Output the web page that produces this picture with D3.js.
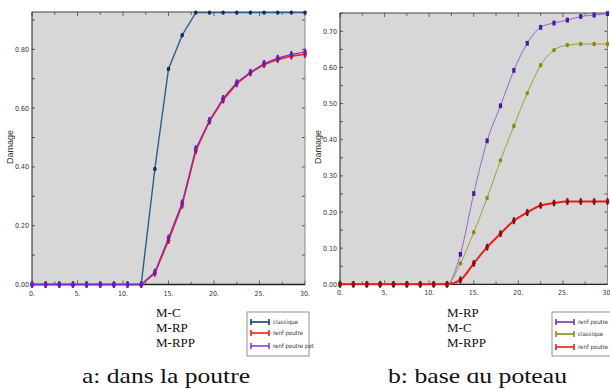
<!DOCTYPE html>
<html>
<head>
<meta charset="utf-8">
<style>
body { margin: 0; background: #fff; }
svg { display: block; }
.tick-lbl { font-family: "Liberation Sans Narrow", "DejaVu Sans Condensed", sans-serif; font-size: 7px; fill: #333; }
.cap { font-family: "Liberation Serif", serif; fill: #111; }
</style>
</head>
<body>
<svg id="chart" width="610" height="389"></svg>
<script src="https://cdn.jsdelivr.net/npm/d3@7"></script>
<script>
// x positions shared by every series
const xs = [0, 1.5, 3, 4.5, 6, 7.5, 9, 10.5, 12, 13.5, 15, 16.5, 18, 19.5, 21, 22.5, 24, 25.5, 27, 28.5, 30];

// a: dans la poutre
const aClassique = [0, 0, 0, 0, 0, 0, 0, 0, 0, 0.393, 0.733, 0.848, 0.925, 0.925, 0.925, 0.925, 0.925, 0.925, 0.925, 0.925, 0.925];
const aRenfPoutre = [0, 0, 0, 0, 0, 0, 0, 0, 0, 0.038, 0.150, 0.270, 0.455, 0.555, 0.628, 0.683, 0.720, 0.748, 0.765, 0.777, 0.783];
const aRenfPoutrePot = [0, 0, 0, 0, 0, 0, 0, 0, 0, 0.042, 0.158, 0.278, 0.462, 0.558, 0.633, 0.687, 0.722, 0.752, 0.770, 0.783, 0.791];

// b: base du poteau
const bRenfPoutre = [0, 0, 0, 0, 0, 0, 0, 0, 0, 0.083, 0.251, 0.397, 0.494, 0.592, 0.667, 0.711, 0.723, 0.731, 0.741, 0.745, 0.749];
const bClassique = [0, 0, 0, 0, 0, 0, 0, 0, 0, 0.058, 0.144, 0.239, 0.343, 0.438, 0.529, 0.606, 0.648, 0.662, 0.665, 0.665, 0.665];
const bRenfPoutrePot = [0, 0, 0, 0, 0, 0, 0, 0, 0, 0.012, 0.058, 0.103, 0.140, 0.176, 0.199, 0.218, 0.225, 0.229, 0.229, 0.229, 0.229];

const xTicks = [0, 5, 10, 15, 20, 25, 30];
const aYTicks = [0, 0.2, 0.4, 0.6, 0.8];
const bYTicks = [0, 0.1, 0.2, 0.3, 0.4, 0.5, 0.6, 0.7];

const svg = d3.select('#chart');

function drawPanel(p) {
  const x = d3.scaleLinear().domain([0, 30]).range([p.left, p.right]);
  const y = d3.scaleLinear().domain([0, p.ymax]).range([p.bottom, p.top]);
  const g = svg.append('g');

  g.append('rect')
    .attr('x', p.left).attr('y', p.top)
    .attr('width', p.right - p.left).attr('height', p.bottom - p.top)
    .attr('fill', '#d7d7d7');

  // minor + major ticks, drawn inward on all four sides
  const xt = d3.range(0, 30.01, 2.5);
  const yt = d3.range(0, p.ymax, p.ystep / 2);
  xt.forEach(function(v) {
    const len = (v % 5 === 0) ? 4 : 3;
    g.append('line').attr('x1', x(v)).attr('x2', x(v)).attr('y1', p.bottom).attr('y2', p.bottom - len).attr('stroke', '#666');
    g.append('line').attr('x1', x(v)).attr('x2', x(v)).attr('y1', p.top).attr('y2', p.top + len).attr('stroke', '#666');
  });
  yt.forEach(function(v) {
    g.append('line').attr('x1', p.left).attr('x2', p.left + 3).attr('y1', y(v)).attr('y2', y(v)).attr('stroke', '#555');
    g.append('line').attr('x1', p.right).attr('x2', p.right - 3).attr('y1', y(v)).attr('y2', y(v)).attr('stroke', '#555');
  });

  // frame
  g.append('line').attr('x1', p.left).attr('x2', p.right).attr('y1', p.top).attr('y2', p.top).attr('stroke', '#444');
  g.append('line').attr('x1', p.right).attr('x2', p.right).attr('y1', p.top).attr('y2', p.bottom).attr('stroke', '#888');
  g.append('line').attr('x1', p.left).attr('x2', p.left).attr('y1', p.top).attr('y2', p.bottom).attr('stroke', '#222');
  g.append('line').attr('x1', p.left).attr('x2', p.right).attr('y1', p.bottom).attr('y2', p.bottom).attr('stroke', '#222').attr('stroke-width', 1.3);

  // tick labels
  g.selectAll('.xl').data(xTicks).join('text')
    .attr('class', 'tick-lbl')
    .attr('x', function(d) { return x(d); })
    .attr('y', p.bottom + 11)
    .attr('text-anchor', 'middle')
    .text(function(d) { return d + '.'; });
  g.selectAll('.yl').data(p.yTicks).join('text')
    .attr('class', 'tick-lbl')
    .attr('x', p.left - 3)
    .attr('y', function(d) { return y(d) + 2.5; })
    .attr('text-anchor', 'end')
    .text(function(d) { return d.toFixed(2); });

  g.append('text')
    .attr('transform', 'translate(' + (p.left - 19) + ',' + 147 + ') rotate(-90)')
    .attr('text-anchor', 'middle')
    .style('font-family', 'Liberation Sans, Arial, sans-serif')
    .style('font-size', '9px')
    .attr('fill', '#333')
    .text('Damage');

  // series
  p.series.forEach(function(s) {
    const pts = xs.map(function(v, i) { return [v, s.values[i]]; });
    const line = d3.line()
      .x(function(d) { return x(d[0]); })
      .y(function(d) { return y(d[1]); })
      .curve(p.curve);
    g.append('path').attr('d', line(pts))
      .attr('fill', 'none').attr('stroke', s.color).attr('stroke-width', s.width);
    const m = g.selectAll(null).data(pts).join('g')
      .attr('transform', function(d) { return 'translate(' + x(d[0]) + ',' + y(d[1]) + ')'; });
    if (s.marker === 'square') {
      m.append('rect').attr('x', -1.6).attr('y', -2.4).attr('width', 3.2).attr('height', 4.8).attr('fill', s.mcolor);
    } else if (s.marker === 'dot') {
      m.append('ellipse').attr('rx', 1.8).attr('ry', 2.2).attr('fill', s.mcolor);
    } else {
      m.append('ellipse').attr('rx', 1.5).attr('ry', 3.6).attr('fill', s.mcolor);
      m.append('line').attr('x1', -2).attr('x2', 2).attr('stroke', s.mcolor).attr('stroke-width', 1);
    }
  });

  // plot labels M-..
  p.names.forEach(function(n, i) {
    g.append('text').attr('class', 'cap')
      .attr('x', p.namesX).attr('y', 317 + i * 15)
      .style('font-size', '13px')
      .text(n);
  });

  // legend
  const lg = g.append('g');
  lg.append('rect')
    .attr('x', p.legX).attr('y', 312).attr('width', p.legW).attr('height', 44)
    .attr('fill', '#fff').attr('stroke', '#777').attr('stroke-width', 0.8);
  p.series.forEach(function(s, i) {
    const yy = p.legRows[i];
    lg.append('line').attr('x1', p.legX + 4).attr('x2', p.legX + 22).attr('y1', yy).attr('y2', yy)
      .attr('stroke', s.legColor).attr('stroke-width', 1.6);
    lg.append('line').attr('x1', p.legX + 4).attr('x2', p.legX + 4).attr('y1', yy - 3).attr('y2', yy + 3)
      .attr('stroke', s.legColor).attr('stroke-width', 1.6);
    lg.append('line').attr('x1', p.legX + 22).attr('x2', p.legX + 22).attr('y1', yy - 3).attr('y2', yy + 3)
      .attr('stroke', s.legColor).attr('stroke-width', 1.6);
    lg.append('text').attr('class', 'tick-lbl')
      .attr('x', p.legX + 26).attr('y', yy + 2)
      .style('font-size', '6px')
      .text(s.name);
  });

  // caption
  g.append('text').attr('class', 'cap')
    .attr('x', p.capX).attr('y', 383)
    .style('font-size', '21px')
    .attr('textLength', p.capW)
    .attr('lengthAdjust', 'spacingAndGlyphs')
    .text(p.caption);
}

drawPanel({
  left: 32, right: 305, top: 12, bottom: 284.5, ymax: 0.927, ystep: 0.2,
  yTicks: aYTicks, curve: d3.curveLinear,
  series: [
    { name: 'classique', values: aClassique, color: '#2d5d8f', mcolor: '#0f2f5a', legColor: '#1b3f6e', width: 1.4, marker: 'dot' },
    { name: 'renf poutre', values: aRenfPoutre, color: '#ff1a1a', mcolor: '#e01010', legColor: '#ff1a1a', width: 1.6, marker: 'bar' },
    { name: 'renf poutre pot', values: aRenfPoutrePot, color: '#7a30c0', mcolor: '#6a1fb0', legColor: '#8a3fd0', width: 1.2, marker: 'bar' }
  ],
  names: ['M-C', 'M-RP', 'M-RPP'], namesX: 156,
  legX: 247, legW: 62, legRows: [322, 333, 346],
  capX: 82, capW: 168, caption: 'a: dans la poutre'
});

drawPanel({
  left: 340, right: 607.5, top: 13, bottom: 284.3, ymax: 0.7507, ystep: 0.1,
  yTicks: bYTicks, curve: d3.curveMonotoneX,
  series: [
    { name: 'renf poutre', values: bRenfPoutre, color: '#8a6ad0', mcolor: '#4a1a9a', legColor: '#6a3ab0', width: 1, marker: 'square' },
    { name: 'classique', values: bClassique, color: '#a0a030', mcolor: '#8a8a10', legColor: '#8a8a20', width: 1, marker: 'dot' },
    { name: 'renf poutre pot', values: bRenfPoutrePot, color: '#e81c1c', mcolor: '#8a1010', legColor: '#e02020', width: 2, marker: 'bar' }
  ],
  names: ['M-RP', 'M-C', 'M-RPP'], namesX: 447,
  legX: 552, legW: 62, legRows: [322, 334, 347],
  capX: 388, capW: 179, caption: 'b: base du poteau'
});

// the second figure overlaps the top of its caption
svg.append('rect').attr('x', 421).attr('y', 358).attr('width', 104).attr('height', 14.5).attr('fill', '#fff');
</script>
</body>
</html>
